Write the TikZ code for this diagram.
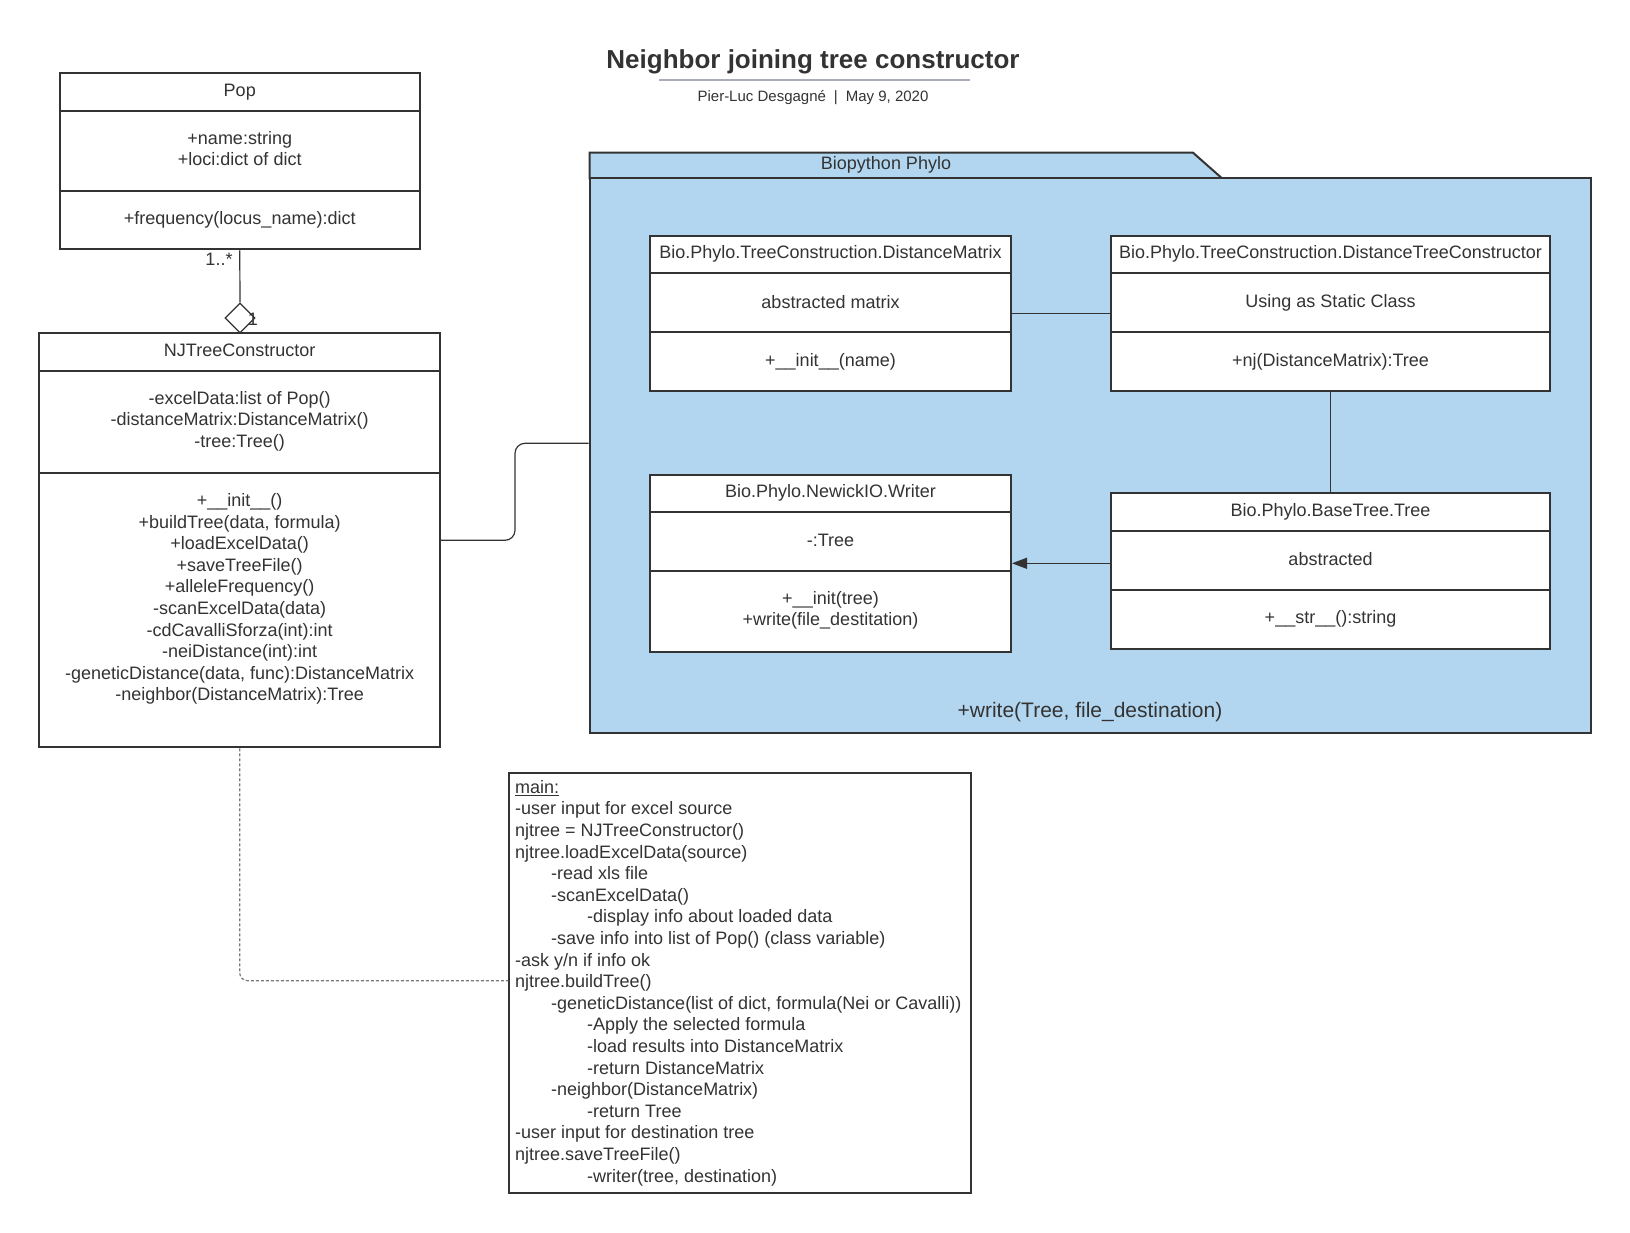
\documentclass[tikz,border=0pt]{standalone}
\usepackage{fontspec}
\setmainfont{Liberation Sans}
\usetikzlibrary{shapes.geometric,arrows.meta}
\definecolor{ink}{HTML}{333333}
\definecolor{pkgblue}{RGB}{178,214,239}
\definecolor{rulegray}{HTML}{A8ADB9}
\definecolor{dashgray}{HTML}{7A7A7A}
\newcommand\indA{\hspace*{36pt}}
\newcommand\indB{\hspace*{72pt}}
\begin{document}
\begin{tikzpicture}[x=1pt,y=-1pt,
  every node/.append style={text=ink},
  clsbox/.style={draw=ink, line width=2pt, fill=white, inner sep=0pt, rectangle},
  divline/.style={draw=ink, line width=2pt},
  txt/.style={font=\fontsize{18}{21.6}\selectfont, align=center, inner sep=0pt},
  conn/.style={draw=ink, line width=1.2pt},
  dashconn/.style={draw=dashgray, line width=1.2pt, dash pattern=on 3pt off 2pt},
]
\useasboundingbox[fill=white] (0,0) rectangle (1630,1233);

% title
\node[font=\bfseries\fontsize{26}{31}\selectfont, inner sep=0pt] (title) at (813,62) {Neighbor joining tree constructor};
\draw[rulegray, line width=1.5pt] (659,80) -- (970,80);
\node[font=\fontsize{15}{18}\selectfont, inner sep=0pt] (sub) at (813,97.5) {Pier-Luc Desgagné\hspace{8pt}|\hspace{8pt}May 9, 2020};

% Pop
\node[clsbox, minimum width=360.5pt, minimum height=176.3pt] (pop) at (239.75,161.15) {};
\draw[divline] (pop.west |- 0,111) -- (pop.east |- 0,111);
\draw[divline] (pop.west |- 0,190.7) -- (pop.east |- 0,190.7);
\node[txt] (popT) at (239.75,92) {Pop};
\node[txt] (popA) at (239.75,148.5) {+name:string\\+loci:dict of dict};
\node[txt] (popM) at (239.75,220) {+frequency(locus\_name):dict};

% NJTreeConstructor
\node[clsbox, minimum width=400.7pt, minimum height=414pt] (nj) at (239.65,540.3) {};
\draw[divline] (nj.west |- 0,371) -- (nj.east |- 0,371);
\draw[divline] (nj.west |- 0,472.7) -- (nj.east |- 0,472.7);
\node[txt] (njT) at (239.65,350.5) {NJTreeConstructor};
\node[txt] (njA) at (239.65,421) {-excelData:list of Pop()\\-distanceMatrix:DistanceMatrix()\\-tree:Tree()};
\node[txt] (njM) at (239.65,599) {+\_\_init\_\_()\\+buildTree(data, formula)\\+loadExcelData()\\+saveTreeFile()\\+alleleFrequency()\\-scanExcelData(data)\\-cdCavalliSforza(int):int\\-neiDistance(int):int\\-geneticDistance(data, func):DistanceMatrix\\-neighbor(DistanceMatrix):Tree};

% aggregation
\node[diamond, draw=ink, line width=1.2pt, fill=white, inner sep=0pt, minimum width=30pt, minimum height=30pt] (agg) at (240,318) {};
\draw[conn] (pop.south) -- (agg.north);
\node[txt] (mult1) at (219,259) {1..*};
\node[txt] (mult2) at (253,319) {1};

% package
\draw[draw=ink, line width=2pt, fill=pkgblue] (589.5,178.3) -- (589.5,152.7) -- (1193,152.7) -- (1222,178.3) -- cycle;
\node[draw=ink, line width=2pt, fill=pkgblue, inner sep=0pt, minimum width=1001.5pt, minimum height=554.4pt] (pkg) at (1090.25,455.5) {};
\node[txt] (pkgname) at (886,165) {Biopython Phylo};
\node[txt, font=\fontsize{21}{25}\selectfont] (pkgop) at (1090,712) {+write(Tree, file\_destination)};

% DistanceMatrix
\node[clsbox, minimum width=361pt, minimum height=155.3pt] (dm) at (830.5,313.65) {};
\draw[divline] (dm.west |- 0,273) -- (dm.east |- 0,273);
\draw[divline] (dm.west |- 0,332) -- (dm.east |- 0,332);
\node[txt] (dmT) at (830.5,254) {Bio.Phylo.TreeConstruction.DistanceMatrix};
\node[txt] (dmA) at (830.5,302) {abstracted matrix};
\node[txt] (dmM) at (830.5,361.5) {+\_\_init\_\_(name)};

% DistanceTreeConstructor
\node[clsbox, minimum width=439pt, minimum height=155.3pt] (dtc) at (1330.5,313.65) {};
\draw[divline] (dtc.west |- 0,273) -- (dtc.east |- 0,273);
\draw[divline] (dtc.west |- 0,332) -- (dtc.east |- 0,332);
\node[txt] (dtcT) at (1330.5,254) {Bio.Phylo.TreeConstruction.DistanceTreeConstructor};
\node[txt] (dtcA) at (1330.5,302.5) {Using as Static Class};
\node[txt] (dtcM) at (1330.5,361.5) {+nj(DistanceMatrix):Tree};

% Writer
\node[clsbox, minimum width=361pt, minimum height=177.3pt] (writer) at (830.5,563.35) {};
\draw[divline] (writer.west |- 0,512) -- (writer.east |- 0,512);
\draw[divline] (writer.west |- 0,571) -- (writer.east |- 0,571);
\node[txt] (writerT) at (830.5,493) {Bio.Phylo.NewickIO.Writer};
\node[txt] (writerA) at (830.5,540.5) {-:Tree};
\node[txt] (writerM) at (830.5,610.5) {+\_\_init(tree)\\+write(file\_destitation)};

% Tree
\node[clsbox, minimum width=439pt, minimum height=155.7pt] (tree) at (1330.5,570.85) {};
\draw[divline] (tree.west |- 0,530.7) -- (tree.east |- 0,530.7);
\draw[divline] (tree.west |- 0,590) -- (tree.east |- 0,590);
\node[txt] (treeT) at (1330.5,511.5) {Bio.Phylo.BaseTree.Tree};
\node[txt] (treeA) at (1330.5,559) {abstracted};
\node[txt] (treeM) at (1330.5,619.3) {+\_\_str\_\_():string};

% connectors inside package
\draw[conn] (dm.east) -- (dtc.west);
\draw[conn] (dtc.south) -- (tree.north);
\draw[conn, -{Triangle[length=15pt,width=11pt]}] (tree.west |- 0,563.3) -- (writer.east |- 0,563.3);

% NJ to package
\draw[conn, rounded corners=10pt] (nj.east) -| (515,443.3) -- (pkg.west |- 0,443.3);

% main box
\node[draw=ink, line width=2pt, fill=white, inner sep=0pt, minimum width=461.4pt, minimum height=420.6pt] (mainbox) at (740,983) {};
\node[font=\fontsize{18}{21.6}\selectfont, align=left, anchor=west, inner sep=0pt] (maintext) at (515,983) {\underline{main:}\\
-user input for excel source\\
njtree = NJTreeConstructor()\\
njtree.loadExcelData(source)\\
\indA -read xls file\\
\indA -scanExcelData()\\
\indB -display info about loaded data\\
\indA -save info into list of Pop() (class variable)\\
-ask y/n if info ok\\
njtree.buildTree()\\
\indA -geneticDistance(list of dict, formula(Nei or Cavalli))\\
\indB -Apply the selected formula\\
\indB -load results into DistanceMatrix\\
\indB -return DistanceMatrix\\
\indA -neighbor(DistanceMatrix)\\
\indB -return Tree\\
-user input for destination tree\\
njtree.saveTreeFile()\\
\indB -writer(tree, destination)};

\draw[dashconn, rounded corners=8pt] (nj.south) |- (mainbox.west |- 0,980.7);
\end{tikzpicture}
\end{document}
